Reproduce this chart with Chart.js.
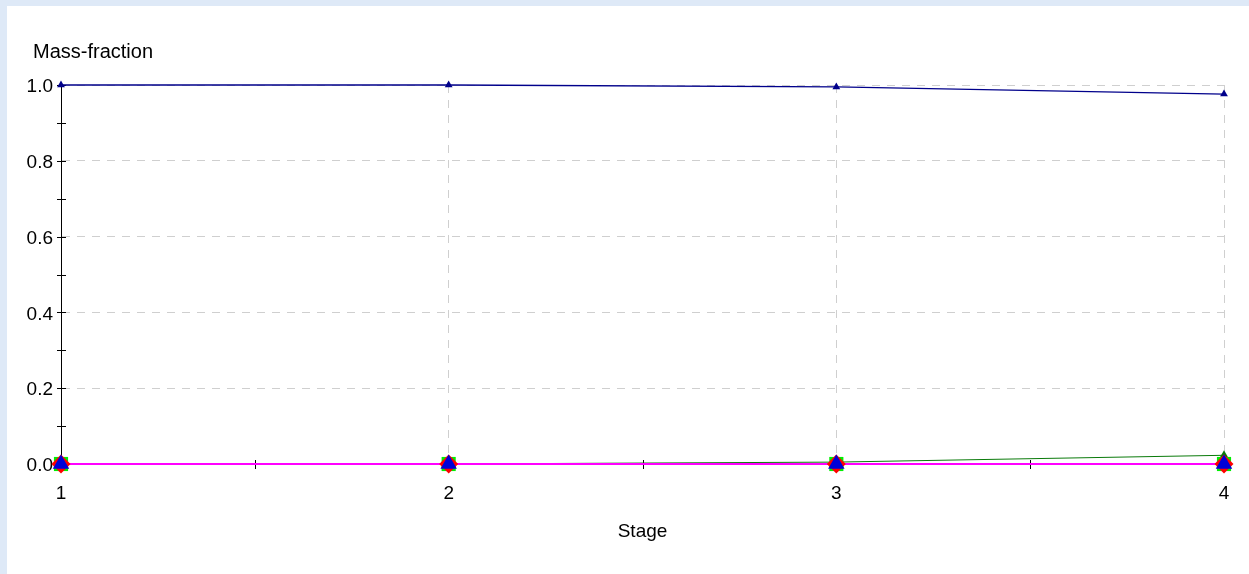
<!DOCTYPE html>
<html>
<head>
<meta charset="utf-8">
<title>Mass-fraction vs Stage</title>
<script src="https://cdn.jsdelivr.net/npm/chart.js@4"></script>
<style>
    html, body { margin: 0; padding: 0; }
    body { background: rgb(222, 233, 247); width: 1249px; height: 574px; overflow: hidden; position: relative; }
    .panel { position: absolute; left: 7px; top: 6px; width: 1242px; height: 568px; background: #fff; }
    canvas { display: block; }
</style>
</head>
<body>
<div class="panel"><canvas id="chart" width="1242" height="568"></canvas></div>
<script>
// ------- Datos -------
const stages = [1, 2, 3, 4];
const yTickValues = [0.0, 0.2, 0.4, 0.6, 0.8, 1.0];
const xTickValues = [1, 2, 3, 4];

const seriesMain = [1.0, 1.0, 0.995, 0.976];     // azul marino, arriba
const seriesGreen = [0.0, 0.0, 0.005, 0.023];    // verde que sube un poco
const seriesLime = [0.0, 0.0, 0.0, 0.0];
const seriesRed = [0.0, 0.0, 0.0, 0.0];
const seriesBlue = [0.0, 0.0, 0.0, 0.0];
const seriesMagenta = [0.0, 0.0, 0.0, 0.0];

const axisFont = { family: '"Liberation Sans", Arial, sans-serif', size: 19 };

function pts(values) {
    return stages.map((s, i) => ({ x: s, y: values[i] }));
}

function isOn(list, v) {
    return list.some(t => Math.abs(t - v) < 1e-6);
}

// ------- Plugins -------
// marcas "+" cruzando los ejes (como en el original)
const crossTicks = {
    id: 'crossTicks',
    beforeDatasetsDraw(chart) {
        const ctx = chart.ctx;
        const xs = chart.scales.x, ys = chart.scales.y;
        const area = chart.chartArea;
        ctx.save();
        ctx.strokeStyle = '#000';
        ctx.lineWidth = 1;
        ctx.beginPath();
        ys.ticks.forEach(t => {
            const py = Math.round(ys.getPixelForValue(t.value)) + 0.5;
            ctx.moveTo(area.left - 4, py);
            ctx.lineTo(area.left + 5, py);
        });
        xs.ticks.forEach(t => {
            const px = Math.round(xs.getPixelForValue(t.value)) + 0.5;
            ctx.moveTo(px, area.bottom - 4);
            ctx.lineTo(px, area.bottom + 5);
        });
        ctx.stroke();
        ctx.restore();
    }
};

// titulos de ejes: "Mass-fraction" arriba a la izquierda, "Stage" centrado abajo
const axisTitles = {
    id: 'axisTitles',
    afterDraw(chart) {
        const ctx = chart.ctx;
        const area = chart.chartArea;
        ctx.save();
        ctx.fillStyle = '#000';
        ctx.textBaseline = 'alphabetic';
        ctx.textAlign = 'left';
        ctx.font = '20px "Liberation Sans", Arial, sans-serif';
        ctx.fillText('Mass-fraction', 26, 52);
        ctx.textAlign = 'center';
        ctx.font = '19px "Liberation Sans", Arial, sans-serif';
        ctx.fillText('Stage', (area.left + area.right) / 2, 531);
        ctx.restore();
    }
};

// ------- Grafica -------
const ctx = document.getElementById('chart').getContext('2d');

new Chart(ctx, {
    type: 'line',
    data: {
        datasets: [
            {
                label: 'main', data: pts(seriesMain), order: 0,
                borderColor: '#00008b', backgroundColor: '#00008b', borderWidth: 1.4,
                pointStyle: 'triangle', pointRadius: 4.5, pointBorderWidth: 0
            },
            {
                label: 'blue', data: pts(seriesBlue), order: 1, showLine: false,
                borderColor: '#0000d8', backgroundColor: '#0000d8',
                pointStyle: 'triangle', pointRadius: 9.5, pointBorderWidth: 0
            },
            {
                label: 'red', data: pts(seriesRed), order: 2, showLine: false,
                borderColor: '#ff0000', backgroundColor: '#ff0000',
                pointStyle: 'rectRot', pointRadius: 9.5, pointBorderWidth: 0
            },
            {
                label: 'lime', data: pts(seriesLime), order: 3, showLine: false,
                borderColor: '#00ee00', backgroundColor: '#00ee00',
                pointStyle: 'rect', pointRadius: 10, pointBorderWidth: 0
            },
            {
                label: 'magenta', data: pts(seriesMagenta), order: 4,
                borderColor: '#ff00ff', backgroundColor: '#ff00ff', borderWidth: 2,
                pointRadius: 0
            },
            {
                label: 'green', data: pts(seriesGreen), order: 5,
                borderColor: '#0a7a0a', backgroundColor: '#0a7a0a', borderWidth: 1,
                pointStyle: 'triangle', pointRadius: 5, pointBorderWidth: 0
            }
        ]
    },
    options: {
        responsive: false,
        animation: false,
        clip: false,
        layout: { padding: { left: 0, right: 25, top: 79, bottom: 0 } },
        elements: { line: { tension: 0 } },
        plugins: {
            legend: { display: false },
            tooltip: { enabled: false },
            title: { display: false }
        },
        scales: {
            x: {
                type: 'linear',
                min: 1, max: 4,
                afterBuildTicks: (scale) => {
                    // marcas cada 0.5, etiqueta solo en los enteros
                    const t = [];
                    for (let v = 1; v <= 4.0001; v += 0.5) t.push({ value: Math.round(v * 10) / 10 });
                    scale.ticks = t;
                },
                afterFit: (scale) => { scale.height = 110; },
                grid: {
                    drawTicks: false,
                    color: (c) => (c.tick && c.tick.value > 1 && isOn(xTickValues, c.tick.value)) ? '#cfcfcf' : 'rgba(0,0,0,0)'
                },
                border: { display: true, color: '#000', width: 1, dash: [8, 7] },
                ticks: {
                    padding: 18,
                    color: '#000',
                    font: axisFont,
                    maxRotation: 0,
                    autoSkip: false,
                    callback: (v) => isOn(xTickValues, v) ? String(v) : ''
                }
            },
            y: {
                min: 0, max: 1,
                afterBuildTicks: (scale) => {
                    const t = [];
                    for (let i = 0; i <= 10; i++) t.push({ value: i / 10 });
                    scale.ticks = t;
                },
                afterFit: (scale) => { scale.width = 54; },
                grid: {
                    drawTicks: false,
                    color: (c) => (c.tick && c.tick.value > 0 && isOn(yTickValues, c.tick.value)) ? '#cfcfcf' : 'rgba(0,0,0,0)'
                },
                border: { display: true, color: '#000', width: 1, dash: [8, 7] },
                ticks: {
                    padding: 8,
                    labelOffset: 2,
                    color: '#000',
                    font: axisFont,
                    autoSkip: false,
                    callback: (v) => isOn(yTickValues, v) ? v.toFixed(1) : ''
                }
            }
        }
    },
    plugins: [crossTicks, axisTitles]
});
</script>
</body>
</html>
